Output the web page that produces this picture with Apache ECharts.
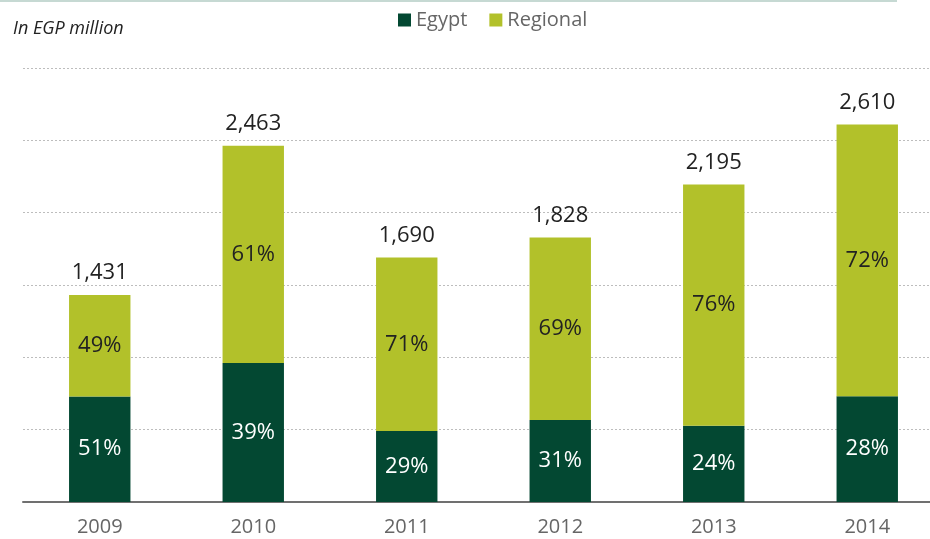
<!DOCTYPE html>
<html>
<head>
<meta charset="utf-8">
<script src="https://cdn.jsdelivr.net/npm/echarts@6/dist/echarts.min.js"></script>
<style>
  html, body { margin: 0; padding: 0; background: #fff; }
  #chart { width: 930px; height: 539px; }
</style>
</head>
<body>
<div id="chart"></div>
<script>
var years = ['2009', '2010', '2011', '2012', '2013', '2014'];
var totals = [1431, 2463, 1690, 1828, 2195, 2610];
var egypt = [730, 961, 490, 567, 527, 731];
var regional = [701, 1502, 1200, 1261, 1668, 1879];
var egyptPct = ['51%', '39%', '29%', '31%', '24%', '28%'];
var regionalPct = ['49%', '61%', '71%', '69%', '76%', '72%'];

var font = '"Open Sans", "Noto Sans", sans-serif';
var chart = echarts.init(document.getElementById('chart'));

chart.setOption({
  animation: false,
  textStyle: { fontFamily: font },
  graphic: [
    { type: 'rect', shape: { x: 0, y: 0, width: 897, height: 2 }, style: { fill: '#c6d9d3' } },
    { type: 'text', left: 13, top: 20, style: { text: 'In EGP million', fontSize: 18, fontStyle: 'italic', fontFamily: font, fill: '#222' } }
  ],
  legend: {
    data: ['Egypt', 'Regional'],
    top: 5,
    left: 393,
    itemWidth: 13,
    itemHeight: 13,
    itemGap: 22,
    icon: 'rect',
    textStyle: { fontSize: 20, color: '#666', fontFamily: font }
  },
  grid: { left: 23, width: 921, top: 68, bottom: 37, outerBoundsMode: 'none' },
  xAxis: {
    type: 'category',
    data: years,
    axisLine: { lineStyle: { color: '#707070', width: 2 } },
    axisTick: { show: false },
    axisLabel: { fontSize: 20, color: '#666', margin: 15, fontFamily: font }
  },
  yAxis: {
    type: 'value',
    min: 0,
    max: 3000,
    interval: 500,
    axisLabel: { show: false },
    axisLine: { show: false },
    axisTick: { show: false },
    splitLine: { lineStyle: { color: '#bdbdbd', type: [2, 2], width: 1 } }
  },
  series: [
    {
      name: 'Egypt',
      type: 'bar',
      stack: 'total',
      barWidth: '40%',
      itemStyle: { color: '#034832' },
      label: {
        show: true,
        position: 'inside',
        color: '#fff',
        fontSize: 22,
        fontFamily: font,
        formatter: function (p) { return egyptPct[p.dataIndex]; }
      },
      data: egypt
    },
    {
      name: 'Regional',
      type: 'bar',
      stack: 'total',
      barWidth: '40%',
      itemStyle: { color: '#b2c12a' },
      label: {
        show: true,
        position: 'inside',
        color: '#222',
        fontSize: 22,
        fontFamily: font,
        formatter: function (p) { return regionalPct[p.dataIndex]; }
      },
      data: regional
    },
    {
      name: 'Total',
      type: 'line',
      symbol: 'circle',
      symbolSize: 2,
      showSymbol: true,
      itemStyle: { color: 'rgba(0,0,0,0)' },
      lineStyle: { color: 'rgba(0,0,0,0)', width: 0 },
      silent: true,
      label: {
        show: true,
        position: 'top',
        distance: 10,
        color: '#222',
        fontSize: 22,
        fontFamily: font,
        formatter: function (p) { return totals[p.dataIndex].toLocaleString('en-US'); }
      },
      data: totals
    }
  ]
});
</script>
</body>
</html>
